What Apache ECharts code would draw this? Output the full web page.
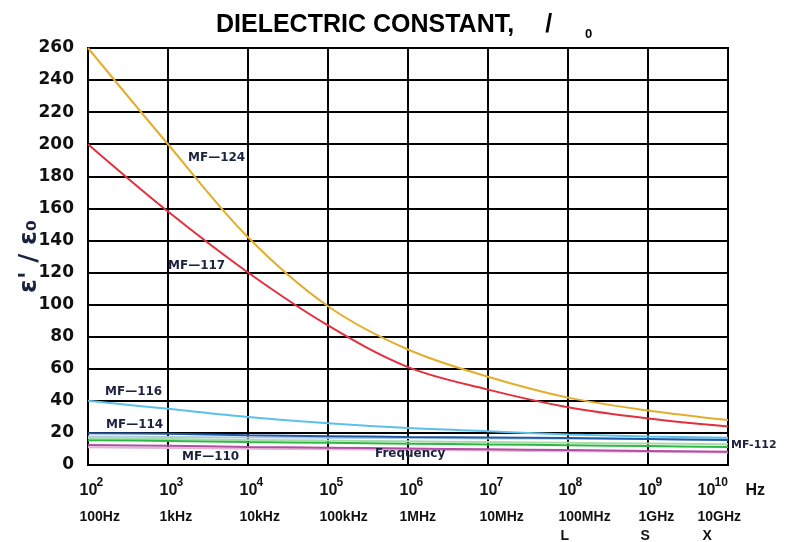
<!DOCTYPE html>
<html>
<head>
<meta charset="utf-8">
<script src="https://cdn.jsdelivr.net/npm/echarts@6/dist/echarts.min.js"></script>
<style>
html,body{margin:0;padding:0;background:#fff;}
#chart{width:795px;height:542px;}
</style>
</head>
<body>
<div id="chart"></div>
<script>
// log10 of frequency (Hz)
const freqExp = [2, 3, 4, 5, 6, 7, 8, 9, 10];
const freqNames = ['100Hz', '1kHz', '10kHz', '100kHz', '1MHz', '10MHz', '100MHz', '1GHz', '10GHz'];
const bandNames = ['', '', '', '', '', '', 'L', 'S', 'X'];
const yTicks = [0, 20, 40, 60, 80, 100, 120, 140, 160, 180, 200, 220, 240, 260];

const mf124 = [260, 200, 142, 99, 72, 55, 42, 34, 28];
const mf117 = [200, 158, 120, 87, 61, 47, 36, 29, 24];
const mf116 = [40, 35, 30, 26, 23, 21, 19, 17.8, 17];
const mf114 = [19.8, 19.5, 18.6, 18, 17.5, 17.2, 16.8, 16.2, 15.6];
const mf114b = [17.8, 17.5, 17.2, 17, 16.8, 16.6, 16.4, 16.2, 16];
const mf112 = [15.5, 15, 14.3, 13.8, 13.3, 12.8, 12.3, 11.8, 11.3];
const mf112b = [16.8, 16.2, 15.6, 15.2, 14.8, 14.3, 13.8, 13.4, 13];
const mf110 = [12.5, 12, 11.3, 10.8, 10.3, 9.8, 9.3, 8.8, 8.3];
const mf110b = [11, 10.6, 10.2, 9.8, 9.4, 9, 8.6, 8.2, 7.8];

const seriesDefs = [
  {name: 'MF-110b', data: mf110b, color: '#e2b4d6', w: 2},
  {name: 'MF-112b', data: mf112b, color: '#a8dca8', w: 2},
  {name: 'MF-114b', data: mf114b, color: '#aecbe2', w: 2},
  {name: 'MF-110', data: mf110, color: '#b04fa4', w: 2},
  {name: 'MF-112', data: mf112, color: '#2fb845', w: 2},
  {name: 'MF-114', data: mf114, color: '#1f5aa8', w: 2},
  {name: 'MF-116', data: mf116, color: '#5cc0ec', w: 2},
  {name: 'MF-117', data: mf117, color: '#e2303f', w: 2},
  {name: 'MF-124', data: mf124, color: '#e3ae2c', w: 2}
];

const labelFont = "'DejaVu Sans', 'Liberation Sans', sans-serif";
const narrow = "'Liberation Sans Narrow', 'Liberation Sans', Arial, sans-serif";
const titleFont = "'Liberation Sans', Arial, sans-serif";

const chart = echarts.init(document.getElementById('chart'), null, {renderer: 'canvas'});

const txtColor = '#1b2240';
function annot(text, x, y, size) {
  return {type: 'text', x: x, y: y, z: 100,
    style: {text: text, fill: txtColor, font: 'bold ' + (size || 11) + 'px ' + labelFont, textVerticalAlign: 'middle'}};
}

const option = {
  animation: false,
  backgroundColor: '#fff',
  title: {
    left: 211, top: 4,
    text: '{a|DIELECTRIC CONSTANT,}{g1|}{s|/}{g2|}{sub|0}',
    textStyle: {
      rich: {
        a: {fontFamily: titleFont, fontWeight: 'bold', fontSize: 25, color: '#000', lineHeight: 32},
        g1: {width: 31},
        s: {fontFamily: titleFont, fontWeight: 'bold', fontSize: 25, color: '#000', lineHeight: 32},
        g2: {width: 33},
        sub: {fontFamily: titleFont, fontWeight: 'bold', fontSize: 13, color: '#000', verticalAlign: 'bottom', lineHeight: 22}
      }
    }
  },
  grid: {left: 88, right: 67, top: 48, bottom: 77, show: true, borderColor: '#000', borderWidth: 2, outerBoundsMode: 'none', containLabel: false},
  xAxis: {
    type: 'value', min: 2, max: 10, interval: 1,
    axisLine: {show: true, lineStyle: {color: '#000', width: 2}},
    axisTick: {show: false},
    splitLine: {show: true, lineStyle: {color: '#000', width: 2}},
    axisLabel: {
      margin: 12, align: 'center',
      formatter: function (v) {
        const i = freqExp.indexOf(v);
        if (i < 0) return '';
        if (v === 10) {
          let s = '{bL|10}{supL|' + v + '}{hz|Hz}\n{fL|' + freqNames[i] + '}';
          if (bandNames[i]) s += '\n{bandL|' + bandNames[i] + '}';
          return s;
        }
        let s = '{b|10}{sup|' + v + '}\n{f|' + freqNames[i] + '}';
        if (bandNames[i]) s += '\n{band|' + bandNames[i] + '}';
        return s;
      },
      rich: {
        b: {width: 17, align: 'left', fontFamily: narrow, fontWeight: 'bold', fontSize: 16, color: '#111', lineHeight: 28},
        sup: {width: 0, align: 'left', fontFamily: narrow, fontWeight: 'bold', fontSize: 12, color: '#111', lineHeight: 14, verticalAlign: 'top'},
        f: {width: 17, align: 'left', fontFamily: narrow, fontWeight: 'bold', fontSize: 14, color: '#111', lineHeight: 24},
        band: {width: 17, align: 'left', fontFamily: narrow, fontWeight: 'bold', fontSize: 14, color: '#111', lineHeight: 14, padding: [0, 0, 0, 2]},
        bL: {width: 17, align: 'left', fontFamily: narrow, fontWeight: 'bold', fontSize: 16, color: '#111', lineHeight: 28},
        supL: {width: 31, align: 'left', fontFamily: narrow, fontWeight: 'bold', fontSize: 12, color: '#111', lineHeight: 14, verticalAlign: 'top'},
        hz: {width: 11, align: 'left', fontFamily: narrow, fontWeight: 'bold', fontSize: 16, color: '#111', lineHeight: 28},
        fL: {width: 56, align: 'left', fontFamily: narrow, fontWeight: 'bold', fontSize: 14, color: '#111', lineHeight: 24},
        bandL: {width: 56, align: 'left', fontFamily: narrow, fontWeight: 'bold', fontSize: 14, color: '#111', lineHeight: 14, padding: [0, 0, 0, 5]}
      }
    }
  },
  yAxis: {
    type: 'value', min: 0, max: 260, interval: 20,
    name: "ε' / ε₀", nameLocation: 'middle', nameGap: 46, nameRotate: 90, nameMoveOverlap: false,
    nameTextStyle: {fontFamily: labelFont, fontWeight: 'bold', fontSize: 25, color: txtColor},
    axisLine: {show: true, lineStyle: {color: '#000', width: 2}},
    axisTick: {show: false},
    splitLine: {show: true, lineStyle: {color: '#000', width: 2}},
    axisLabel: {
      margin: 14, color: '#111', fontFamily: labelFont, fontWeight: 'bold', fontSize: 17,
      formatter: function (v) { return yTicks.indexOf(v) >= 0 ? String(v) : ''; }
    }
  },
  series: seriesDefs.map(function (d) {
    return {
      name: d.name, type: 'line', smooth: 0.35, symbol: 'none',
      data: d.data.map(function (y, i) { return [freqExp[i], y]; }),
      lineStyle: {color: d.color, width: d.w}, z: 5
    };
  }),
  graphic: [
    annot('MF—124', 188, 158, 12),
    annot('MF—117', 168, 266, 12),
    annot('MF—116', 105, 392, 12),
    annot('MF—114', 106, 425, 12),
    annot('MF—110', 182, 457, 12),
    annot('MF-112', 731, 445, 11),
    annot('Frequency', 375, 454, 12)
  ]
};
chart.setOption(option);
</script>
</body>
</html>
